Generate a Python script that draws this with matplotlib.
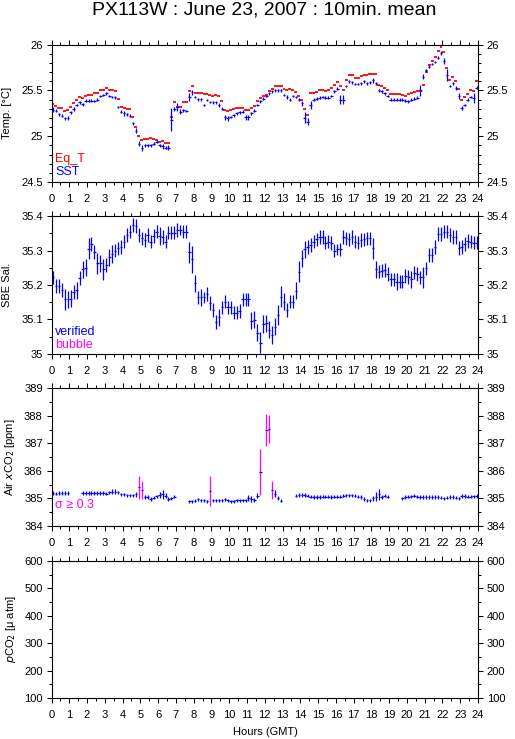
import numpy as np
import matplotlib
matplotlib.use("Agg")
import matplotlib.pyplot as plt
from matplotlib.ticker import MultipleLocator, FuncFormatter

plt.rcParams['font.family'] = ['Liberation Sans', 'DejaVu Sans']

# 10 minute bins, centred
hours = np.arange(144) / 6 + 1 / 12
nan = np.nan

# ---------------- data ----------------
eq_t = [
    25.35, 25.33, 25.31, 25.31, 25.28, 25.29,  25.32, 25.36, 25.40, 25.43, 25.42, 25.44,
    25.45, 25.45, 25.47, 25.47, 25.50, 25.50,  25.53, 25.51, 25.50, 25.49, 25.41, 25.32,
    25.31, 25.30, 25.30, 25.21, 25.10, 25.00,  24.96, 24.97, 24.965, 24.985, 24.97, 24.96,
    24.94, 24.95, 24.93, 24.93, 25.21, 25.37,  25.32, 25.32, 25.37, 25.37, 25.49, 25.55,
    25.47, 25.47, 25.47, 25.46, 25.46, 25.45,  25.44, 25.45, 25.44, 25.38, 25.29, 25.28,
    25.29, 25.30, 25.31, 25.31, 25.31, 25.29,  25.29, 25.31, 25.33, 25.38, 25.42, 25.44,
    25.45, 25.49, 25.52, 25.55, 25.55, 25.55,  25.52, 25.50, 25.52, 25.50, 25.48, 25.44,
    25.40, 25.30, 25.23, 25.47, 25.47, 25.48,  25.50, 25.50, 25.49, 25.50, 25.53, 25.56,
    25.59, 25.55, 25.50, 25.61, 25.67, 25.67,  25.64, 25.64, 25.66, 25.67, 25.67, 25.68,
    25.68, 25.68, 25.56, 25.55, 25.53, 25.51,  25.46, 25.46, 25.46, 25.46, 25.45, 25.44,
    25.46, 25.47, 25.48, 25.49, 25.49, 25.56,  25.70, 25.78, 25.82, 25.87, 25.93, 25.97,
    25.92, 25.75, 25.61, 25.65, 25.60, 25.52,  25.40, 25.43, 25.46, 25.50, 25.49, 25.60,
]

sst = [
    25.29, 25.28, 25.24, 25.225, 25.195, 25.20,  25.26, 25.30, 25.34, 25.37, 25.35, 25.39,
    25.39, 25.39, 25.385, 25.40, 25.44, 25.45,   25.47, 25.44, 25.43, 25.425, 25.32, 25.27,
    25.25, 25.24, 25.225, 25.14, 25.06, 24.92,   24.87, 24.90, 24.90, 24.90, 24.92, 24.94,
    24.90, 24.89, 24.875, 24.875, 25.18, 25.30,  25.32, 25.27, 25.285, 25.275, 25.43, 25.48,
    25.43, 25.405, 25.405, 25.34, 25.395, 25.375, 25.37, 25.37, 25.34, 25.30, 25.205, 25.195,
    25.21, 25.23, 25.25, 25.26, 25.27, 25.205,   25.205, 25.25, 25.28, 25.34, 25.38, 25.41,
    25.44, 25.47, 25.49, 25.50, 25.50, 25.50,    25.45, 25.43, 25.40, 25.44, 25.43, 25.40,
    25.36, 25.20, 25.16, 25.34, 25.40, 25.41,    25.42, 25.43, 25.42, 25.42, 25.44, 25.49,
    25.52, 25.40, 25.40, 25.55, 25.60, 25.59,    25.57, 25.57, 25.58, 25.60, 25.58, 25.59,
    25.61, 25.58, 25.50, 25.49, 25.47, 25.44,    25.40, 25.40, 25.40, 25.40, 25.40, 25.39,
    25.38, 25.40, 25.41, 25.42, 25.50, 25.65,    25.72, 25.76, 25.79, 25.81, 25.86, 25.91,
    25.82, 25.67, 25.55, 25.58, 25.53, 25.44,    25.31, 25.34, 25.40, 25.43, 25.42, 25.53,
]

sst_err = [
    .03, .02, .015, .02, .015, .02,   .015, .02, .015, .02, .015, .015,
    .015, .015, .015, .015, .015, .015,  .015, .015, .015, .015, .015, .015,
    .03, .015, .015, .015, .025, .03,  .03, .02, .015, .015, .02, .015,
    .02, .025, .015, .03, .125, .02,  .04, .03, .015, .015, .045, .03,
    .015, .015, .015, .015, .015, .015,  .015, .015, .025, .015, .03, .025,
    .015, .015, .015, .015, .015, .03,  .03, .015, .02, .015, .015, .015,
    .015, .015, .015, .015, .015, .015,  .015, .025, .015, .015, .015, .02,
    .03, .06, .035, .04, .02, .015,  .015, .015, .015, .015, .015, .015,
    .015, .05, .05, .015, .015, .015,  .015, .015, .015, .015, .015, .015,
    .03, .015, .02, .015, .015, .015,  .015, .015, .015, .015, .015, .015,
    .015, .015, .015, .015, .06, .03,  .015, .015, .015, .015, .015, .02,
    .03, .07, .015, .015, .02, .03,  .02, .015, .015, .015, .055, .015,
]

salinity = [
    35.222, 35.197, 35.197, 35.185, 35.158, 35.158,  35.160, 35.180, 35.185, 35.220, 35.245, 35.250,
    35.305, 35.320, 35.295, 35.263, 35.263, 35.245,  35.258, 35.280, 35.290, 35.300, 35.306, 35.311,
    35.326, 35.345, 35.355, 35.374, 35.371, 35.345,  35.335, 35.330, 35.345, 35.326, 35.342, 35.355,
    35.342, 35.340, 35.326, 35.352, 35.352, 35.352,  35.360, 35.360, 35.355, 35.355, 35.295, 35.274,
    35.205, 35.164, 35.164, 35.164, 35.174, 35.147,  35.128, 35.092, 35.106, 35.135, 35.152, 35.135,
    35.135, 35.120, 35.120, 35.125, 35.158, 35.158,  35.158, 35.097, 35.099, 35.062, 35.033, 35.087,
    35.089, 35.070, 35.055, 35.079, 35.113, 35.166,  35.152, 35.128, 35.152, 35.152, 35.184, 35.239,
    35.277, 35.303, 35.311, 35.316, 35.326, 35.332,  35.338, 35.340, 35.323, 35.326, 35.321, 35.300,
    35.303, 35.303, 35.340, 35.335, 35.332, 35.338,  35.326, 35.323, 35.330, 35.332, 35.335, 35.335,
    35.306, 35.245, 35.239, 35.242, 35.243, 35.232,  35.216, 35.216, 35.210, 35.210, 35.210, 35.226,
    35.224, 35.216, 35.236, 35.232, 35.222, 35.222,  35.248, 35.287, 35.287, 35.309, 35.348, 35.348,
    35.355, 35.355, 35.345, 35.338, 35.338, 35.308,  35.309, 35.319, 35.328, 35.326, 35.323, 35.323,
]

sal_err = [
    .02, .02, .02, .02, .03, .025,  .025, .02, .025, .02, .025, .025,
    .03, .02, .02, .03, .025, .03,  .02, .025, .025, .02, .02, .02,
    .02, .02, .02, .02, .02, .02,  .02, .02, .02, .02, .02, .02,
    .025, .02, .02, .02, .02, .02,  .02, .015, .02, .02, .03, .04,
    .025, .02, .025, .015, .02, .02,  .02, .02, .025, .02, .02, .02,
    .02, .02, .02, .02, .02, .02,  .02, .025, .025, .025, .03, .025,
    .025, .025, .025, .025, .03, .03,  .025, .02, .02, .02, .025, .03,
    .025, .025, .02, .02, .02, .02,  .02, .02, .02, .02, .02, .02,
    .015, .02, .02, .02, .02, .02,  .02, .02, .02, .02, .02, .02,
    .03, .025, .02, .02, .02, .02,  .02, .02, .025, .02, .02, .02,
    .02, .025, .02, .02, .02, .03,  .02, .02, .02, .02, .02, .02,
    .02, .02, .02, .02, .02, .02,  .02, .02, .02, .02, .02, .02,
]

air_xco2 = [
    385.20, 385.18, 385.20, 385.20, 385.20, 385.20,  nan, nan, nan, nan, 385.20, 385.20,
    385.20, 385.20, 385.20, 385.20, 385.20, 385.20,  385.18, 385.22, 385.25, 385.25, 385.22, 385.15,
    385.15, 385.12, 385.12, 385.12, 385.15, 385.40,  385.30, 385.05, 385.05, 384.98, 385.03, 385.08,
    385.12, 385.15, 385.10, 384.98, 385.00, 385.07,  nan, nan, nan, nan, 384.90, 384.90,
    384.92, 384.97, 384.93, 384.93, 384.90, 385.27,  384.93, 384.93, 384.93, 384.93, 384.97, 384.93,
    384.90, 384.90, 384.93, 384.93, 384.93, 384.93,  385.02, 384.98, 384.95, 385.10, 385.95, nan,
    387.49, 387.52, 385.31, 385.17, 385.02, 384.92,  nan, nan, nan, nan, 385.10, 385.13,
    385.13, 385.13, 385.10, 385.07, 385.05, 385.05,  385.05, 385.07, 385.07, 385.07, 385.05, 385.07,
    385.07, 385.07, 385.10, 385.12, 385.12, 385.12,  385.10, 385.07, 385.05, 384.98, 384.93, 384.93,
    385.00, 385.07, 385.15, 385.05, 385.10, 385.07,  nan, nan, nan, nan, 385.00, 385.05,
    385.07, 385.08, 385.10, 385.07, 385.05, 385.05,  385.05, 385.05, 385.05, 385.05, 385.05, 385.03,
    385.00, 385.03, 385.05, 385.05, 385.03, 385.00,  385.10, 385.10, 385.07, 385.07, 385.08, 385.10,
]

xco2_err = [
    .06, .06, .06, .06, .06, .06,  0, 0, 0, 0, .06, .06,
    .06, .06, .06, .06, .06, .06,  .06, .06, .08, .08, .06, .06,
    .06, .06, .06, .06, .09, .43,  .33, .08, .06, .06, .06, .06,
    .1, .16, .1, .06, .06, .06,  0, 0, 0, 0, .06, .06,
    .06, .06, .06, .06, .06, .53,  .06, .06, .06, .06, .06, .06,
    .06, .06, .06, .06, .06, .06,  .1, .1, .06, .1, .83, 0,
    .58, .50, .33, .12, .06, .06,  0, 0, 0, 0, .06, .06,
    .06, .06, .06, .06, .06, .06,  .06, .06, .06, .06, .06, .06,
    .06, .06, .06, .06, .06, .06,  .06, .06, .06, .06, .06, .06,
    .1, .15, .2, .08, .06, .06,  0, 0, 0, 0, .06, .06,
    .06, .06, .06, .06, .06, .06,  .06, .06, .06, .06, .06, .06,
    .06, .06, .06, .06, .06, .06,  .08, .08, .06, .06, .06, .08,
]

BLUE = "#0000ff"
RED = "#ff0000"
MAGENTA = "#ff00ff"
HALF_BIN = 1 / 14   # half width of the horizontal dash (hours)

fig = plt.figure(figsize=(5.15, 7.39), dpi=100)
fig.patch.set_facecolor("white")

fmt = FuncFormatter(lambda v, p: f"{v:g}")


def setup(ax, ylim, major, minor):
    ax.set_xlim(0, 24)
    ax.set_ylim(*ylim)
    ax.xaxis.set_major_locator(MultipleLocator(1))
    ax.xaxis.set_minor_locator(MultipleLocator(0.5))
    ax.yaxis.set_major_locator(MultipleLocator(major))
    ax.yaxis.set_minor_locator(MultipleLocator(minor))
    ax.yaxis.set_major_formatter(fmt)
    ax.tick_params(which="both", direction="out", top=True, right=True,
                   labelright=True, width=0.75, labelsize=8)
    ax.tick_params(which="major", length=3.8)
    ax.tick_params(which="minor", length=2.2)
    ax.tick_params(axis="x", pad=5)
    ax.tick_params(axis="y", pad=2.5)
    for s in ax.spines.values():
        s.set_linewidth(0.8)


# ================= PANEL 1 : temperatures =================
ax1 = fig.add_axes([0.1, 0.7537, 0.8282, 0.1858])
ax1.errorbar(hours, eq_t, xerr=1 / 12, fmt="none", ecolor=RED, elinewidth=1.3, capsize=0)
ax1.errorbar(hours, sst, xerr=HALF_BIN, yerr=sst_err, fmt="none", ecolor=BLUE,
             elinewidth=0.9, capsize=0)
setup(ax1, (24.5, 26), 0.5, 0.1)
ax1.text(0.008, 0.17, "Eq_T", color=RED, fontsize=9, transform=ax1.transAxes, va="center")
ax1.text(0.008, 0.07, "SST", color=BLUE, fontsize=9, transform=ax1.transAxes, va="center")

# ================= PANEL 2 : salinity =================
ax2 = fig.add_axes([0.1, 0.521, 0.8282, 0.1867])
ax2.errorbar(hours, salinity, xerr=HALF_BIN, yerr=sal_err, fmt="none", ecolor=BLUE,
             elinewidth=0.9, capsize=0)
setup(ax2, (35.0, 35.4), 0.1, 0.05)
ax2.text(0.008, 0.16, "verified", color=BLUE, fontsize=9, transform=ax2.transAxes, va="center")
ax2.text(0.008, 0.065, "bubble", color=MAGENTA, fontsize=9, transform=ax2.transAxes, va="center")

# ================= PANEL 3 : air xCO2 =================
ax3 = fig.add_axes([0.1, 0.2882, 0.8282, 0.1863])
xco2 = np.array(air_xco2)
err = np.array(xco2_err)
big = err >= 0.3
ax3.errorbar(hours[~big], xco2[~big], yerr=err[~big], fmt="none", ecolor=BLUE,
             elinewidth=0.9, capsize=0)
ax3.errorbar(hours[big], xco2[big], yerr=err[big], fmt="none", ecolor=MAGENTA,
             elinewidth=0.9, capsize=0)
ax3.errorbar(hours, xco2, xerr=HALF_BIN, fmt="none", ecolor=BLUE, elinewidth=0.9, capsize=0)
setup(ax3, (384, 389), 1, 0.5)
ax3.text(0.008, 0.155, "σ ≥ 0.3", color=MAGENTA, fontsize=9, transform=ax3.transAxes, va="center")

# ================= PANEL 4 : pCO2 (empty) =================
ax4 = fig.add_axes([0.1, 0.0555, 0.8282, 0.1854])
setup(ax4, (100, 600), 100, 50)

# ================= LABELS =================
fig.text(0.014, 0.7537 + 0.1858 / 2, "Temp. [°C]", rotation=90, ha="center", va="center", fontsize=8)
fig.text(0.014, 0.521 + 0.1867 / 2, "SBE Sal.", rotation=90, ha="center", va="center", fontsize=8)
fig.text(0.02, 0.2882 + 0.1863 / 2, "Air $x$CO$_2$ [ppm]", rotation=90, ha="center", va="center", fontsize=8)
fig.text(0.022, 0.0555 + 0.1854 / 2, "$p$CO$_2$ [μ atm]", rotation=90, ha="center", va="center", fontsize=8)

fig.text(0.513, 0.986, "PX113W : June 23, 2007 : 10min. mean", ha="center", va="center", fontsize=14)
fig.text(0.515, 0.010, "Hours (GMT)", ha="center", va="center", fontsize=8)

fig.savefig("out.png", dpi=100)
